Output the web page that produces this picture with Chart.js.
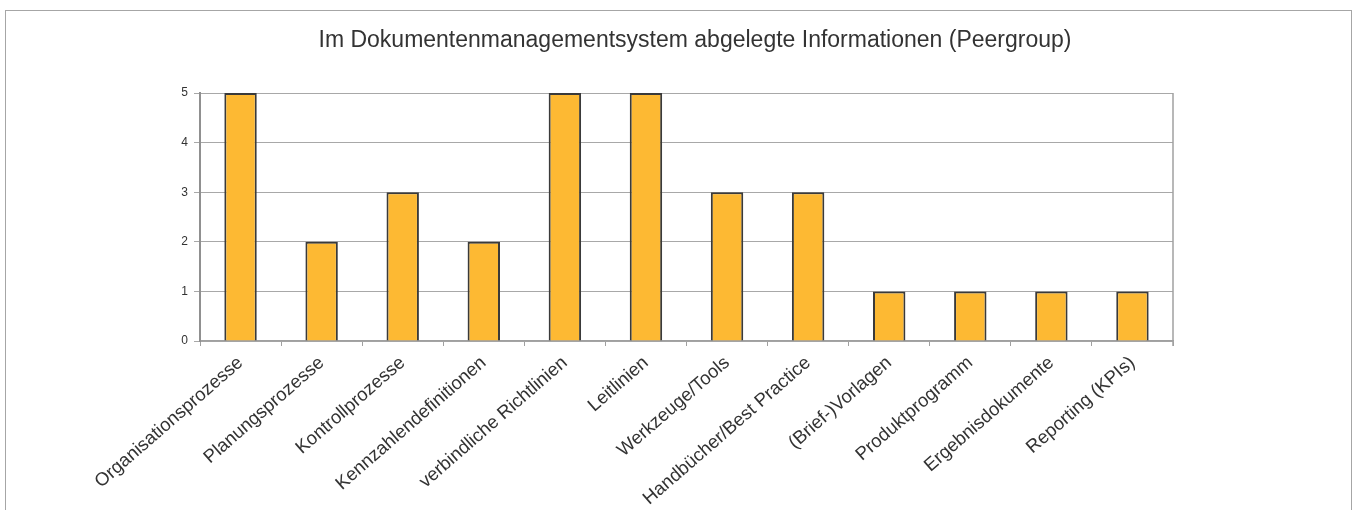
<!DOCTYPE html>
<html>
<head>
<meta charset="utf-8">
<script src="https://cdn.jsdelivr.net/npm/chart.js@4"></script>
<style>
    html, body { margin: 0; padding: 0; background: #fff; overflow: hidden; }
    #wrap { position: relative; width: 1354px; height: 510px; }
    #frame {
        position: absolute; left: 5px; top: 10px;
        width: 1345px; height: 520px;
        border: 1px solid #a6a6a6;
        pointer-events: none;
    }
    canvas { position: absolute; left: 0; top: 0; }
</style>
</head>
<body>
<div id="wrap">
    <canvas id="chart" width="1354" height="510"></canvas>
    <div id="frame"></div>
</div>
<script>
// Data
const categories = [
    'Organisationsprozesse',
    'Planungsprozesse',
    'Kontrollprozesse',
    'Kennzahlendefinitionen',
    'verbindliche Richtlinien',
    'Leitlinien',
    'Werkzeuge/Tools',
    'Handbücher/Best Practice',
    '(Brief-)Vorlagen',
    'Produktprogramm',
    'Ergebnisdokumente',
    'Reporting (KPIs)'
];
const counts = [5, 2, 3, 2, 5, 5, 3, 3, 1, 1, 1, 1];
const yTicks = [0, 1, 2, 3, 4, 5];

const titleText = 'Im Dokumentenmanagementsystem abgelegte Informationen (Peergroup)';
const fontFamily = '"Liberation Sans", Arial, Helvetica, sans-serif';

// right edge of the plot box
const plotBorder = {
    id: 'plotBorder',
    afterDraw(chart) {
        const { ctx, chartArea } = chart;
        ctx.save();
        ctx.strokeStyle = '#a0a0a0';
        ctx.lineWidth = 1.5;
        ctx.beginPath();
        ctx.moveTo(chartArea.right, chartArea.top);
        ctx.lineTo(chartArea.right, chartArea.bottom + 5);
        ctx.stroke();
        ctx.restore();
    }
};

new Chart('chart', {
    type: 'bar',
    data: {
        labels: categories,
        datasets: [{
            data: counts,
            backgroundColor: '#fdb933',
            borderColor: '#3a3a3a',
            borderWidth: 2,
            barPercentage: 0.4,
            categoryPercentage: 1
        }]
    },
    options: {
        responsive: false,
        animation: false,
        layout: {
            padding: { left: 36, right: 0, top: 0, bottom: 0 }
        },
        plugins: {
            legend: { display: false },
            tooltip: { enabled: false },
            title: {
                display: true,
                text: titleText,
                color: '#333',
                font: { family: fontFamily, size: 23, weight: 'normal' },
                padding: { top: 27, bottom: 38.4 }
            }
        },
        scales: {
            x: {
                grid: {
                    offset: true,
                    drawOnChartArea: false,
                    tickLength: 5,
                    color: '#a0a0a0'
                },
                border: { color: '#a0a0a0', width: 1.5 },
                ticks: {
                    minRotation: 41,
                    maxRotation: 41,
                    autoSkip: false,
                    padding: 6,
                    color: '#333',
                    font: { family: fontFamily, size: 18.5 }
                },
                afterFit(scale) { scale.height = 169; }
            },
            y: {
                min: 0,
                max: 5,
                afterBuildTicks(scale) {
                    scale.ticks = yTicks.map(v => ({ value: v }));
                },
                grid: {
                    color: '#a8a8a8',
                    lineWidth: 1,
                    tickLength: 6
                },
                border: { color: '#909090', width: 2 },
                ticks: {
                    padding: 6,
                    color: '#333',
                    font: { family: fontFamily, size: 12 }
                },
                afterFit(scale) { scale.width = 164; }
            },
            // empty spacer on the right so the plot ends where the original does
            spacer: {
                type: 'linear',
                axis: 'y',
                position: 'right',
                grid: { display: false },
                border: { display: false },
                ticks: { display: false },
                afterFit(scale) { scale.width = 181; }
            }
        }
    },
    plugins: [plotBorder]
});
</script>
</body>
</html>
